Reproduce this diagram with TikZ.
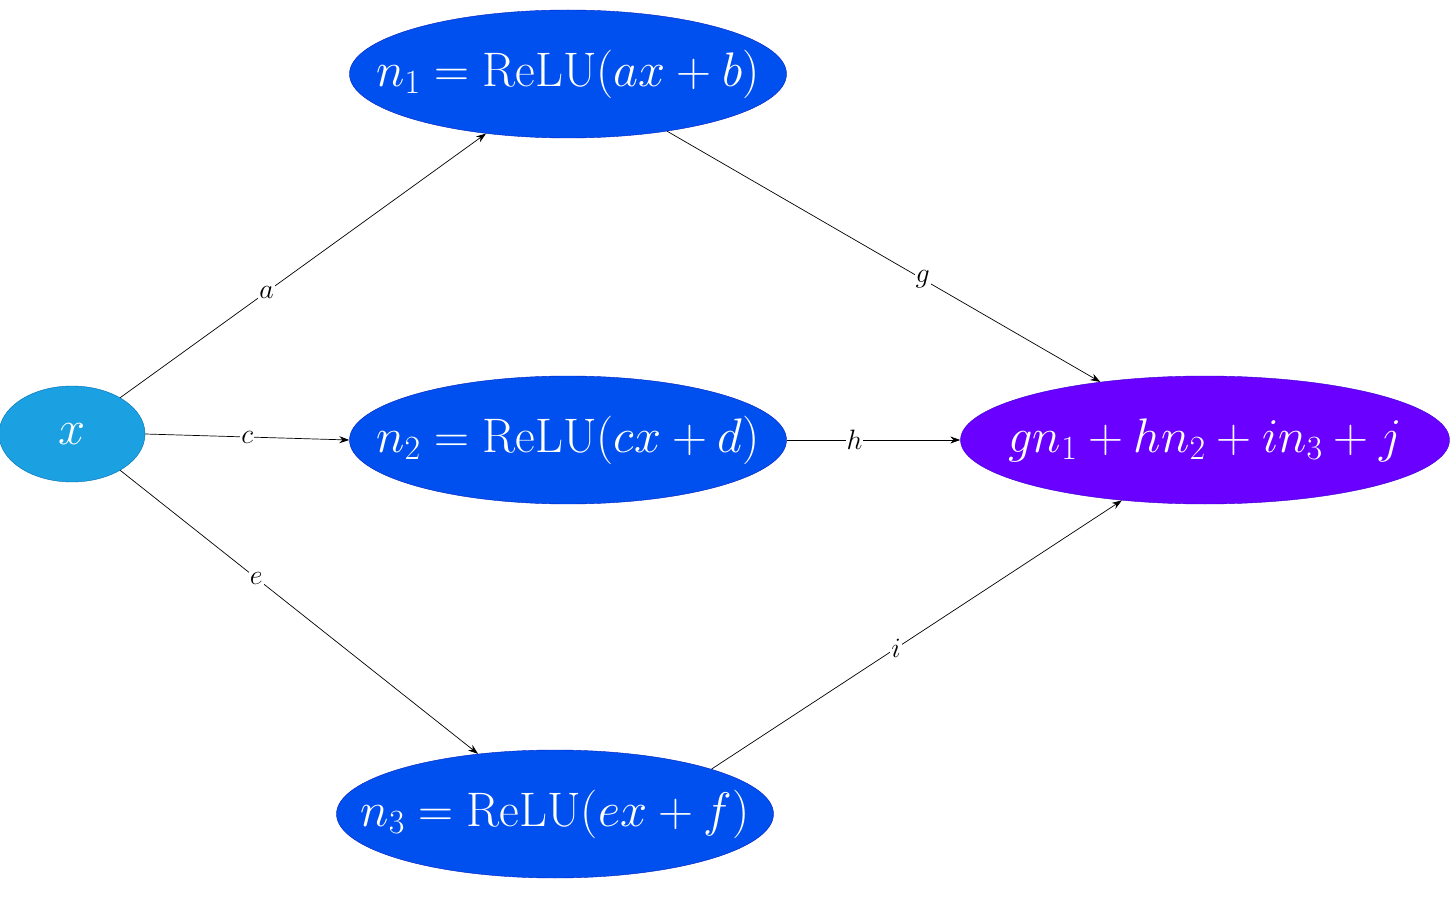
\RequirePackage{fix-cm}
\documentclass[tikz,border=0pt]{standalone}
\usetikzlibrary{shapes.geometric,arrows.meta}
\definecolor{xfill}{HTML}{1BA1E2}
\definecolor{xline}{HTML}{006EAF}
\definecolor{nfill}{HTML}{0050EF}
\definecolor{nline}{HTML}{001DBC}
\definecolor{ofill}{HTML}{6A00FF}
\definecolor{oline}{HTML}{3700CC}
\newcommand{\nowidth}[1]{\makebox[0pt]{#1}}
\tikzset{
	unit/.style={ellipse, draw, inner sep=0pt, text=white, font=\fontsize{48.5}{56}\selectfont, minimum height=128pt},
	wlabel/.style={fill=white, inner sep=1pt, font=\fontsize{28}{32}\selectfont},
	conn/.style={-{Stealth[length=10pt,width=7pt]}, line width=0.7pt}
}
\begin{document}
\begin{tikzpicture}[x=1pt, y=-1pt]
	\useasboundingbox (0,0) rectangle (1452,901);
	\node[unit, fill=xfill, draw=xline, minimum width=146pt, minimum height=96pt] (x) at (72,434) {\nowidth{$x$}};
	\node[unit, fill=nfill, draw=nline, minimum width=437pt] (n1) at (568,74) {\nowidth{$n_1 = \mathrm{ReLU}(ax+b)$}};
	\node[unit, fill=nfill, draw=nline, minimum width=437pt] (n2) at (568,440) {\nowidth{$n_2 = \mathrm{ReLU}(cx+d)$}};
	\node[unit, fill=nfill, draw=nline, minimum width=437pt] (n3) at (555,814) {\nowidth{$n_3 = \mathrm{ReLU}(ex+f)$}};
	\node[unit, fill=ofill, draw=oline, minimum width=489pt] (out) at (1205,440) {\nowidth{$gn_1 + hn_2 + in_3 + j$}};
	\draw[conn] (x.37) -- node[wlabel, pos=0.40]{$a$} (n1.216);
	\draw[conn] (x.east) -- node[wlabel, pos=0.50]{$c$} (n2.west);
	\draw[conn] (x.323) -- node[wlabel, pos=0.38]{$e$} (n3.142);
	\draw[conn] (n1.330) -- node[wlabel, pos=0.59]{$g$} (out.151);
	\draw[conn] (n2.east) -- node[wlabel, pos=0.39]{$h$} (out.west);
	\draw[conn] (n3.16) -- node[wlabel, pos=0.45]{$i$} (out.216);
\end{tikzpicture}
\end{document}
